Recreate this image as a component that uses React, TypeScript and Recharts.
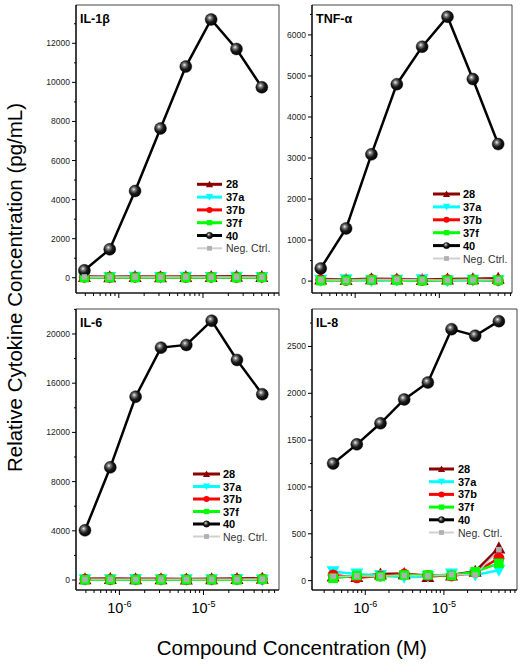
import React from "react";
import { LineChart, Line, XAxis, YAxis, ReferenceArea } from "recharts";

// compound concentration (M)
const CONC = [3.9e-7, 7.8e-7, 1.56e-6, 3.125e-6, 6.25e-6, 1.25e-5, 2.5e-5, 5e-5];

// IL-1β (pg/mL)
const IL1B_28 = [60, 50, 70, 50, 60, 70, 80, 60];
const IL1B_37A = [20, 10, 20, 10, 20, 10, 20, 10];
const IL1B_37B = [30, 20, 30, 40, 20, 30, 20, 30];
const IL1B_37F = [10, 20, 10, 20, 10, 20, 10, 20];
const IL1B_40 = [380, 1460, 4440, 7640, 10810, 13220, 11710, 9750];
const IL1B_NEG = [40, 30, 40, 30, 40, 30, 40, 30];

// TNF-α
const TNF_28 = [50, 40, 60, 50, 40, 50, 60, 70];
const TNF_37A = [20, 30, 10, 20, 30, 10, 20, 10];
const TNF_37B = [30, 20, 40, 30, 20, 30, 30, 20];
const TNF_37F = [10, 20, 30, 20, 10, 20, 30, 20];
const TNF_40 = [310, 1285, 3090, 4800, 5715, 6445, 4925, 3340];
const TNF_NEG = [30, 20, 30, 40, 30, 20, 30, 30];

// IL-6
const IL6_28 = [100, 120, 100, 110, 90, 100, 120, 140];
const IL6_37A = [30, 20, 40, 30, 20, 30, 40, 10];
const IL6_37B = [60, 40, 50, 60, 40, 50, 60, 80];
const IL6_37F = [20, 30, 20, 30, 20, 30, 20, 60];
const IL6_40 = [4040, 9160, 14900, 18890, 19110, 21080, 17890, 15100];
const IL6_NEG = [40, 50, 40, 50, 40, 50, 40, 70];

// IL-8
const IL8_28 = [50, 45, 70, 75, 45, 60, 100, 350];
const IL8_37A = [95, 70, 55, 35, 45, 70, 60, 110];
const IL8_37B = [60, 30, 50, 70, 55, 50, 90, 240];
const IL8_37F = [25, 55, 45, 60, 60, 55, 95, 185];
const IL8_40 = [1250, 1455, 1680, 1935, 2115, 2685, 2615, 2770];
const IL8_NEG = [45, 50, 50, 55, 50, 65, 60, 330];

// tick labels
const IL1B_YTICKS = [0, 2000, 4000, 6000, 8000, 10000, 12000];
const TNF_YTICKS = [0, 1000, 2000, 3000, 4000, 5000, 6000];
const IL6_YTICKS = [0, 4000, 8000, 12000, 16000, 20000];
const IL8_YTICKS = [0, 500, 1000, 1500, 2000, 2500];
const X_MAJOR = [1e-6, 1e-5];
const X_MAJOR_EXP = ["-6", "-5"];
const X_MINOR = [
  2e-7, 3e-7, 4e-7, 5e-7, 6e-7, 7e-7, 8e-7, 9e-7,
  2e-6, 3e-6, 4e-6, 5e-6, 6e-6, 7e-6, 8e-6, 9e-6,
  2e-5, 3e-5, 4e-5, 5e-5, 6e-5, 7e-5, 8e-5, 9e-5,
];

const FONT = '"Liberation Sans", Arial, sans-serif';

const SERIES = [
  { key: "s28", label: "28", color: "#8B0000", width: 2.5, shape: "tri" },
  { key: "s37a", label: "37a", color: "#00FFFF", width: 2.5, shape: "tridown" },
  { key: "s37b", label: "37b", color: "#FF0000", width: 2.5, shape: "circle" },
  { key: "s37f", label: "37f", color: "#00FF00", width: 2.5, shape: "square" },
  { key: "s40", label: "40", color: "#000000", width: 2.5, shape: "sphere" },
  { key: "neg", label: "Neg. Ctrl.", color: "#C4C4C4", width: 1.5, shape: "small" },
];

const PANELS = [
  {
    title: "IL-1β",
    frame: [76, 5, 279, 293],
    xDomain: [3.1e-7, 8e-5],
    yDomain: [-780, 13960],
    yTicks: IL1B_YTICKS,
    values: [IL1B_28, IL1B_37A, IL1B_37B, IL1B_37F, IL1B_40, IL1B_NEG],
    legend: { x0: 197, x1: 222, tx: 226, y0: 184.3, dy: 12.8 },
    xLabels: false,
  },
  {
    title: "TNF-α",
    frame: [312, 5, 512, 293],
    xDomain: [3.07e-7, 7.3e-5],
    yDomain: [-290, 6730],
    yTicks: TNF_YTICKS,
    values: [TNF_28, TNF_37A, TNF_37B, TNF_37F, TNF_40, TNF_NEG],
    legend: { x0: 433, x1: 460, tx: 463, y0: 194, dy: 12.9 },
    xLabels: false,
  },
  {
    title: "IL-6",
    frame: [76, 309, 279, 590],
    xDomain: [3.05e-7, 7.9e-5],
    yDomain: [-810, 22030],
    yTicks: IL6_YTICKS,
    values: [IL6_28, IL6_37A, IL6_37B, IL6_37F, IL6_40, IL6_NEG],
    legend: { x0: 193, x1: 220, tx: 223, y0: 474, dy: 12.5 },
    xLabels: true,
  },
  {
    title: "IL-8",
    frame: [312, 309, 517, 590],
    xDomain: [2.1e-7, 8.5e-5],
    yDomain: [-100, 2900],
    yTicks: IL8_YTICKS,
    values: [IL8_28, IL8_37A, IL8_37B, IL8_37F, IL8_40, IL8_NEG],
    legend: { x0: 429, x1: 454, tx: 458, y0: 469, dy: 12.7 },
    xLabels: true,
  },
];

function Marker({ shape, color, cx, cy, big }: any) {
  const k = big ? 1 : 0.55;
  switch (shape) {
    case "tri": {
      const s = 6.5 * k;
      return <polygon points={`${cx},${cy - s} ${cx - s},${cy + s * 0.85} ${cx + s},${cy + s * 0.85}`} fill={color} />;
    }
    case "tridown": {
      const s = 6.5 * k;
      return <polygon points={`${cx},${cy + s} ${cx - s},${cy - s * 0.85} ${cx + s},${cy - s * 0.85}`} fill={color} />;
    }
    case "circle":
      return <circle cx={cx} cy={cy} r={5.5 * k} fill={color} />;
    case "square": {
      const s = 4.8 * k;
      return <rect x={cx - s} y={cy - s} width={2 * s} height={2 * s} fill={color} />;
    }
    case "sphere":
      return <circle cx={cx} cy={cy} r={big ? 6 : 3.2} fill="url(#sphereGrad)" stroke="#000" strokeWidth={0.4} />;
    default: {
      const s = big ? 2.8 : 2.4;
      return <rect x={cx - s} y={cy - s} width={2 * s} height={2 * s} fill="#B0B0B0" />;
    }
  }
}

function XTick(props: any) {
  const { x, y, payload, showLabel } = props;
  const i = X_MAJOR.indexOf(payload.value);
  const major = i >= 0;
  return (
    <g>
      <line x1={x} x2={x} y1={y} y2={y + (major ? 5 : 3)} stroke="#000" strokeWidth={1} />
      {major && showLabel && (
        <text x={x} y={y + 23} textAnchor="middle" fontFamily={FONT} fontSize={14.5} fill="#000">
          <tspan>10</tspan>
          <tspan dy={-6} fontSize={9}>{X_MAJOR_EXP[i]}</tspan>
        </text>
      )}
    </g>
  );
}

function YTick(props: any) {
  const { x, y, payload, majors } = props;
  const major = majors.includes(payload.value);
  return (
    <g>
      <line x1={x} x2={x - (major ? 4 : 2)} y1={y} y2={y} stroke="#000" strokeWidth={1} />
      {major && (
        <text x={x - 6} y={y + 3} textAnchor="end" fontFamily={FONT} fontSize={8.5} fill="#222">
          {payload.value}
        </text>
      )}
    </g>
  );
}

const YW = 50;
const XH = 40;
const PAD = 3;

function Panel({ p }: any) {
  const [L, T, R, B] = p.frame;
  const data = CONC.map((c, i) => {
    const row: any = { c };
    SERIES.forEach((s, j) => (row[s.key] = p.values[j][i]));
    return row;
  });
  const step = p.yTicks[1] - p.yTicks[0];
  const minors = p.yTicks
    .map((v: number) => v + step / 2)
    .filter((v: number) => v < p.yDomain[1]);
  const yTicks = [...p.yTicks, ...minors].sort((a, b) => a - b);
  const xTicks = [...X_MINOR, ...X_MAJOR]
    .filter((v) => v >= p.xDomain[0] && v <= p.xDomain[1])
    .sort((a, b) => a - b);

  return (
    <div style={{ position: "absolute", left: L - YW, top: T - PAD }}>
      <LineChart
        width={YW + (R - L) + PAD}
        height={PAD + (B - T) + XH}
        data={data}
        margin={{ top: PAD, right: PAD, left: 0, bottom: 0 }}
      >
        <XAxis
          dataKey="c"
          type="number"
          scale="log"
          domain={p.xDomain}
          allowDataOverflow
          ticks={xTicks}
          interval={0}
          height={XH}
          tickSize={0}
          tickMargin={0}
          tickLine={false}
          axisLine={{ stroke: "#000", strokeWidth: 1.2 }}
          tick={(tp: any) => <XTick {...tp} showLabel={p.xLabels} />}
        />
        <YAxis
          type="number"
          domain={p.yDomain}
          allowDataOverflow
          ticks={yTicks}
          interval={0}
          width={YW}
          tickSize={0}
          tickMargin={0}
          tickLine={false}
          axisLine={{ stroke: "#000", strokeWidth: 1.2 }}
          tick={(tp: any) => <YTick {...tp} majors={p.yTicks} />}
        />
        <ReferenceArea
          x1={p.xDomain[0]}
          x2={p.xDomain[1]}
          y1={p.yDomain[0]}
          y2={p.yDomain[1]}
          fill="none"
          stroke="#444"
          strokeWidth={1}
        />
        {SERIES.map((s) => (
          <Line
            key={s.key}
            dataKey={s.key}
            stroke={s.color}
            strokeWidth={s.width}
            isAnimationActive={false}
            dot={(dp: any) => (
              <Marker key={`${s.key}-${dp.index}`} shape={s.shape} color={s.color} cx={dp.cx} cy={dp.cy} big />
            )}
            activeDot={false}
          />
        ))}
      </LineChart>
    </div>
  );
}

function Legend({ p }: any) {
  const { x0, x1, tx, y0, dy } = p.legend;
  return (
    <g>
      {SERIES.map((s, i) => {
        const y = y0 + i * dy;
        const isNeg = s.key === "neg";
        return (
          <g key={s.key}>
            <line x1={x0} x2={x1} y1={y} y2={y} stroke={isNeg ? "#D0D0D0" : s.color} strokeWidth={isNeg ? 2 : 3} />
            <Marker shape={s.shape} color={s.color} cx={(x0 + x1) / 2} cy={y} big={false} />
            <text
              x={tx}
              y={y + 4}
              fontFamily={FONT}
              fontSize={isNeg ? 10.5 : 11}
              fontWeight={isNeg ? "normal" : "bold"}
              fill={isNeg ? "#333" : "#000"}
            >
              {s.label}
            </text>
          </g>
        );
      })}
    </g>
  );
}

export default function App() {
  return (
    <div style={{ position: "absolute", left: 0, top: 0, width: 522, height: 667, background: "#fff" }}>
      <svg width={0} height={0} style={{ position: "absolute" }}>
        <defs>
          <radialGradient id="sphereGrad" cx="0.4" cy="0.4" r="0.65" fx="0.38" fy="0.35">
            <stop offset="0%" stopColor="#f4f4f4" />
            <stop offset="22%" stopColor="#808080" />
            <stop offset="55%" stopColor="#1a1a1a" />
            <stop offset="100%" stopColor="#000" />
          </radialGradient>
        </defs>
      </svg>
      {PANELS.map((p) => (
        <Panel key={p.title} p={p} />
      ))}
      <svg
        width={522}
        height={667}
        style={{ position: "absolute", left: 0, top: 0, pointerEvents: "none" }}
      >
        {PANELS.map((p) => (
          <g key={p.title}>
            <text
              x={p.frame[0] + 4}
              y={p.frame[1] + 17.5}
              fontFamily={FONT}
              fontSize={12.5}
              fontWeight="bold"
              fill="#000"
            >
              {p.title}
            </text>
            <Legend p={p} />
          </g>
        ))}
        <text
          transform="translate(21.5,287.5) rotate(-90)"
          textAnchor="middle"
          fontFamily={FONT}
          fontSize={20.5}
          fill="#000"
        >
          Relative Cytokine Concentration (pg/mL)
        </text>
        <text x={291.7} y={655} textAnchor="middle" fontFamily={FONT} fontSize={20.5} fill="#000">
          Compound Concentration (M)
        </text>
      </svg>
    </div>
  );
}
